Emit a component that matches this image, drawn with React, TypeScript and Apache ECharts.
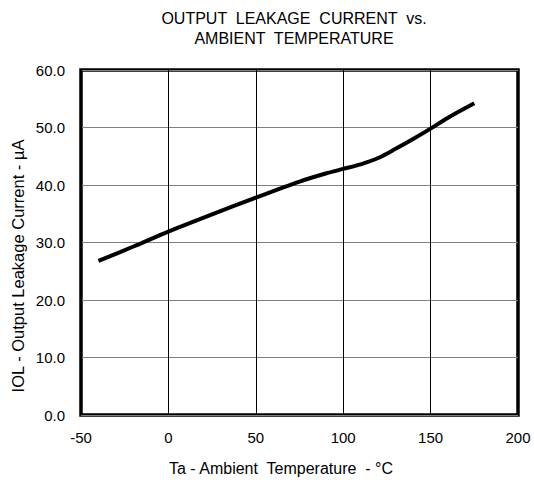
import React, { useEffect, useRef } from "react";
import * as echarts from "echarts";

const temps = [-40, -20, 0, 25, 50, 75, 90, 100, 110, 120, 130, 140, 150, 160, 175];
const leakage = [26.8, 29.3, 31.9, 34.9, 37.8, 40.6, 42.0, 42.8, 43.6, 44.7, 46.3, 48.0, 49.8, 51.7, 54.2];
const titleLines = ["OUTPUT  LEAKAGE  CURRENT  vs.", "AMBIENT  TEMPERATURE"];
const xName = "Ta - Ambient  Temperature  - °C";
const yName = "IOL - Output Leakage Current - µA";

export default function App() {
  const ref = useRef<HTMLDivElement>(null);
  useEffect(() => {
    document.body.style.margin = "0";
    const chart = echarts.init(ref.current!, null, { renderer: "svg" });
    const font = "'Liberation Sans', Arial, sans-serif";
    chart.setOption({
      animation: false,
      backgroundColor: "#ffffff",
      title: {
        text: titleLines.join("\n"),
        left: 289,
        top: 4,
        textAlign: "center",
        textStyle: { fontFamily: font, fontSize: 16, fontWeight: "normal", color: "#000", lineHeight: 19.5 },
      },
      grid: {
        left: 81,
        right: 16,
        top: 70,
        bottom: 69,
        show: true,
        borderColor: "#000",
        borderWidth: 3.5,
        backgroundColor: "transparent",
      },
      graphic: [
        {
          type: "text",
          x: 281,
          y: 468,
          style: {
            text: xName,
            font: `16px ${font}`,
            fill: "#000",
            textAlign: "center",
            textVerticalAlign: "middle",
            align: "center",
            verticalAlign: "middle",
          },
        },
        {
          type: "text",
          x: 17.5,
          y: 266,
          rotation: Math.PI / 2,
          style: {
            text: yName,
            font: `16.5px ${font}`,
            fill: "#000",
            textAlign: "center",
            textVerticalAlign: "middle",
            align: "center",
            verticalAlign: "middle",
          },
        },
      ],
      xAxis: {
        type: "value",
        min: -50,
        max: 200,
        interval: 50,
        axisLine: { show: false },
        axisTick: { show: false },
        axisLabel: { fontFamily: font, fontSize: 15, color: "#000", margin: 15 },
        splitLine: { show: true, lineStyle: { color: "#000", width: 1 } },
      },
      yAxis: {
        type: "value",
        min: 0,
        max: 60,
        interval: 10,
        axisLine: { show: false },
        axisTick: { show: false },
        axisLabel: {
          fontFamily: font,
          fontSize: 15,
          color: "#000",
          margin: 16,
          formatter: (v: number) => v.toFixed(1),
        },
        splitLine: { show: true, lineStyle: { color: "#808080", width: 1 } },
      },
      series: [
        {
          type: "line",
          data: temps.map((t, i) => [t, leakage[i]]),
          smooth: 0.3,
          showSymbol: false,
          lineStyle: { color: "#000", width: 4 },
        },
      ],
    });
    return () => chart.dispose();
  }, []);
  return <div ref={ref} style={{ width: 534, height: 484 }} />;
}
